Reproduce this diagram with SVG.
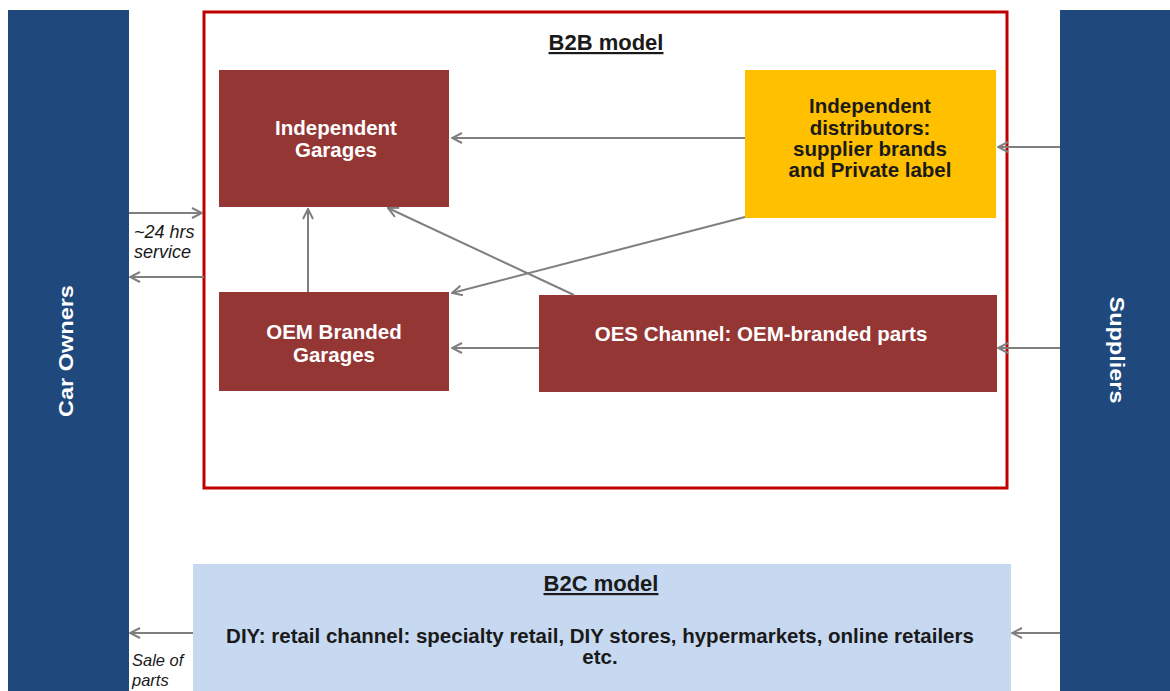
<svg xmlns="http://www.w3.org/2000/svg" width="1170" height="691" viewBox="0 0 1170 691">
<defs>
<marker id="ah" viewBox="0 0 12 12" refX="11" refY="6" markerWidth="12" markerHeight="12" markerUnits="userSpaceOnUse" orient="auto">
<path d="M1,1 L11,6 L1,11" fill="none" stroke="#7f7f7f" stroke-width="2"/>
</marker>
</defs>
<style>
.bar{fill:#1f497d}
.node{fill:#943634}
.lbl{font-family:"Liberation Sans",Arial,sans-serif;font-weight:bold;font-size:20.5px;text-anchor:middle}
.hd{font-size:22px}
.side{font-size:23.5px}
.w{fill:#ffffff}
.d{fill:#1a1a1a}
.it{font-family:"Liberation Sans",Arial,sans-serif;font-style:italic;font-size:18px;fill:#1a1a1a}
.sm{font-size:16.5px}
.conn line{stroke:#7f7f7f;stroke-width:2;marker-end:url(#ah)}
</style>
<rect width="1170" height="691" fill="#ffffff"/>
<g id="car-owners">
<rect class="bar" x="8" y="10" width="121" height="681"/>
<text class="lbl side w" transform="translate(73,351) rotate(-90) scale(1,0.88)">Car Owners</text>
</g>
<g id="suppliers">
<rect class="bar" x="1060" y="10" width="110" height="681"/>
<text class="lbl side w" transform="translate(1110,350) rotate(90) scale(1,0.88)">Suppliers</text>
</g>
<g id="b2b-frame">
<rect x="204" y="12" width="803" height="476" fill="none" stroke="#c00000" stroke-width="3"/>
<text class="lbl hd d" x="606" y="50" text-decoration="underline">B2B model</text>
</g>
<g id="independent-garages">
<rect class="node" x="219" y="70" width="230" height="137"/>
<text class="lbl w" x="336" y="135">Independent</text>
<text class="lbl w" x="336" y="157">Garages</text>
</g>
<g id="independent-distributors">
<rect x="745" y="70" width="251" height="148" fill="#ffc000"/>
<text class="lbl d" x="870" y="113">Independent</text>
<text class="lbl d" x="870" y="135">distributors:</text>
<text class="lbl d" x="870" y="156">supplier brands</text>
<text class="lbl d" x="870" y="177">and Private label</text>
</g>
<g id="oem-branded-garages">
<rect class="node" x="219" y="292" width="230" height="99"/>
<text class="lbl w" x="334" y="339">OEM Branded</text>
<text class="lbl w" x="334" y="362">Garages</text>
</g>
<g id="oes-channel">
<rect class="node" x="539" y="295" width="458" height="97"/>
<text class="lbl w" x="761" y="341">OES Channel: OEM-branded parts</text>
</g>
<g id="b2c-model">
<rect x="193" y="564" width="818" height="127" fill="#c6d9f1"/>
<text class="lbl hd d" x="601" y="591" text-decoration="underline">B2C model</text>
<text class="lbl d" x="600" y="643">DIY: retail channel: specialty retail, DIY stores, hypermarkets, online retailers</text>
<text class="lbl d" x="600" y="664">etc.</text>
</g>
<g id="connectors" class="conn">
<line x1="745" y1="138" x2="452" y2="138"/>
<line x1="1060" y1="147" x2="998" y2="147"/>
<line x1="1060" y1="348" x2="998" y2="348"/>
<line x1="539" y1="348" x2="452" y2="348"/>
<line x1="308" y1="292" x2="308" y2="209"/>
<line x1="745" y1="217" x2="452" y2="293"/>
<line x1="574" y1="295" x2="388" y2="208"/>
<line x1="129" y1="213" x2="202" y2="213"/>
<line x1="204" y1="277" x2="130" y2="277"/>
<line x1="193" y1="633" x2="130" y2="633"/>
<line x1="1060" y1="633" x2="1012" y2="633"/>
</g>
<g id="edge-labels">
<text class="it" x="134" y="238">~24 hrs</text>
<text class="it" x="134" y="258">service</text>
<text class="it sm" x="132" y="666">Sale of</text>
<text class="it sm" x="132" y="686">parts</text>
</g>
</svg>
